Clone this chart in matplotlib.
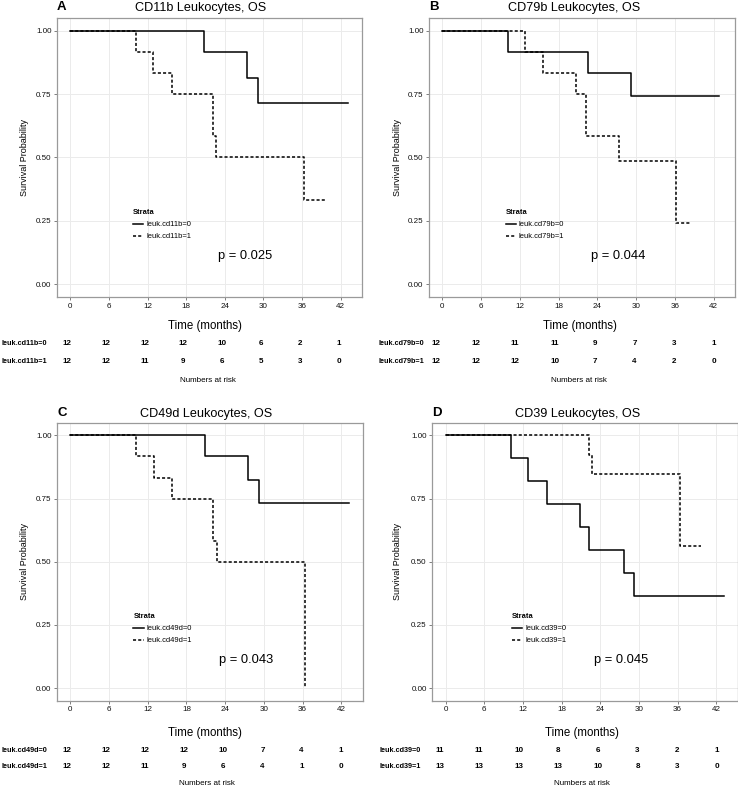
import matplotlib
matplotlib.use('Agg')
import matplotlib.pyplot as plt

plt.rcParams['font.family'] = ['Liberation Sans', 'DejaVu Sans']

W, H = 738, 787

# ---------------- data ----------------
time_ticks = [0, 6, 12, 18, 24, 30, 36, 42]
surv_ticks = [0.0, 0.25, 0.5, 0.75, 1.0]
surv_tick_labels = ['0.00', '0.25', '0.50', '0.75', '1.00']

titles = ['CD11b Leukocytes, OS', 'CD79b Leukocytes, OS',
          'CD49d Leukocytes, OS', 'CD39 Leukocytes, OS']
letters = ['A', 'B', 'C', 'D']
strata0 = ['leuk.cd11b=0', 'leuk.cd79b=0', 'leuk.cd49d=0', 'leuk.cd39=0']
strata1 = ['leuk.cd11b=1', 'leuk.cd79b=1', 'leuk.cd49d=1', 'leuk.cd39=1']
pvals = ['p = 0.025', 'p = 0.044', 'p = 0.043', 'p = 0.045']

A_t0 = [0, 20.8, 27.5, 29.2, 43.2]
A_s0 = [1.0, 0.917, 0.815, 0.713, 0.713]
A_t1 = [0, 10.2, 12.9, 15.8, 22.1, 22.7, 36.3, 39.5]
A_s1 = [1.0, 0.917, 0.833, 0.75, 0.583, 0.5, 0.333, 0.333]
A_risk0 = [12, 12, 12, 12, 10, 6, 2, 1]
A_risk1 = [12, 12, 11, 9, 6, 5, 3, 0]

B_t0 = [0, 10.1, 22.6, 29.2, 42.9]
B_s0 = [1.0, 0.917, 0.833, 0.741, 0.741]
B_t1 = [0, 12.8, 15.6, 20.7, 22.2, 27.4, 36.1, 38.5]
B_s1 = [1.0, 0.917, 0.833, 0.75, 0.583, 0.486, 0.243, 0.243]
B_risk0 = [12, 12, 11, 11, 9, 7, 3, 1]
B_risk1 = [12, 12, 12, 10, 7, 4, 2, 0]

C_t0 = [0, 20.8, 27.6, 29.2, 43.2]
C_s0 = [1.0, 0.917, 0.825, 0.733, 0.733]
C_t1 = [0, 10.2, 12.9, 15.8, 22.1, 22.7, 36.3]
C_s1 = [1.0, 0.917, 0.833, 0.75, 0.583, 0.5, 0.0]
C_risk0 = [12, 12, 12, 12, 10, 7, 4, 1]
C_risk1 = [12, 12, 11, 9, 6, 4, 1, 0]

D_t0 = [0, 10.2, 12.8, 15.7, 20.8, 22.3, 27.7, 29.3, 43.2]
D_s0 = [1.0, 0.909, 0.818, 0.727, 0.636, 0.545, 0.455, 0.364, 0.364]
D_t1 = [0, 22.3, 22.7, 36.4, 39.6]
D_s1 = [1.0, 0.923, 0.846, 0.564, 0.564]
D_risk0 = [11, 11, 10, 8, 6, 3, 2, 1]
D_risk1 = [13, 13, 13, 13, 10, 8, 3, 0]

curves = [(A_t0, A_s0, A_t1, A_s1), (B_t0, B_s0, B_t1, B_s1),
          (C_t0, C_s0, C_t1, C_s1), (D_t0, D_s0, D_t1, D_s1)]
risks = [(A_risk0, A_risk1), (B_risk0, B_risk1),
         (C_risk0, C_risk1), (D_risk0, D_risk1)]

# ---------------- layout (pixels) ----------------
layout = [
    dict(L=57, R=362, T=18, B=297, tcx=201, ty=7.5, ylx=25, tx0=66.7, tx42=339, labr=47,
         r1=343.5, r2=361.5, nar=380, narx=208, tly=326, tlx=205, legx=0.25),
    dict(L=429, R=735, T=18, B=297, tcx=574.5, ty=7.5, ylx=397, tx0=435.7, tx42=714, labr=424,
         r1=343.5, r2=361.5, nar=380, narx=579, tly=326, tlx=579.5, legx=0.25),
    dict(L=57, R=362.7, T=422.7, B=700.7, tcx=206.3, ty=413.5, ylx=25, tx0=66.7, tx42=340.7, labr=47,
         r1=750, r2=767, nar=783.3, narx=206.7, tly=733, tlx=205.3, legx=0.25),
    dict(L=432.3, R=737.5, T=422.7, B=700.7, tcx=577.3, ty=413.5, ylx=397, tx0=439.5, tx42=716.7, labr=421,
         r1=750, r2=767, nar=783.3, narx=582.3, tly=733, tlx=582, legx=0.262),
]

XLIM = (-2.05, 45.3)
YLIM = (-0.05, 1.05)

fig = plt.figure(figsize=(W / 100, H / 100), dpi=100)

for i, lay in enumerate(layout):
    L, R, T, B = lay['L'], lay['R'], lay['T'], lay['B']
    ax = fig.add_axes([L / W, 1 - B / H, (R - L) / W, (B - T) / H])
    ax.set_xlim(*XLIM)
    ax.set_ylim(*YLIM)
    ax.grid(True, color='#ebebeb', lw=0.7)
    ax.set_axisbelow(True)
    for sp in ax.spines.values():
        sp.set_color('#9a9a9a')
        sp.set_linewidth(0.9)
    ax.set_xticks(time_ticks)
    ax.set_xticklabels([str(t) for t in time_ticks])
    ax.set_yticks(surv_ticks)
    ax.set_yticklabels(surv_tick_labels)
    ax.tick_params(length=2.2, width=0.7, color='#7f7f7f', labelsize=5.8, pad=1.8,
                   labelcolor='#111111')

    t0, s0, t1, s1 = curves[i]
    l0, = ax.step(t0, s0, where='post', color='black', lw=1.1, label=strata0[i])
    l1, = ax.step(t1, s1, where='post', color='black', lw=1.1, ls=(0, (2, 1.4)),
                  label=strata1[i])

    leg = ax.legend(handles=[l0, l1], title='Strata', loc='upper left',
                    bbox_to_anchor=(lay['legx'], 0.315), frameon=False, fontsize=5.4,
                    title_fontsize=5.4, handlelength=1.35, handletextpad=0.4,
                    labelspacing=0.65, borderpad=0, borderaxespad=0, alignment='left')
    leg.get_title().set_fontweight('bold')

    ax.text(27.2, 0.11, pvals[i], fontsize=9.3, ha='center', va='center')

    ax.set_ylabel('Survival Probability', fontsize=6.5, va='center', ha='center')
    ax.yaxis.set_label_coords((lay['ylx'] - L) / (R - L), 0.5)
    ax.set_xlabel('Time (months)', fontsize=8.3, va='center', ha='center')
    ax.xaxis.set_label_coords((lay['tlx'] - L) / (R - L), (B - lay['tly']) / (B - T))

    fig.text(lay['tcx'] / W, 1 - lay['ty'] / H, titles[i], fontsize=9.1,
             ha='center', va='center')
    fig.text(L / W, 1 - lay['ty'] / H, letters[i], fontsize=9.5, weight='bold',
             ha='left', va='center')

    # risk table
    x0, x42, r1, r2 = lay['tx0'], lay['tx42'], lay['r1'], lay['r2']
    tax = fig.add_axes([x0 / W, 1 - r2 / H, (x42 - x0) / W, (r2 - r1) / H])
    tax.set_xlim(0, 42)
    tax.set_ylim(0, 1)
    tax.axis('off')
    rk0, rk1 = risks[i]
    for t, n0, n1 in zip(time_ticks, rk0, rk1):
        tax.text(t, 1, str(n0), fontsize=5.8, weight='bold', ha='center', va='center')
        tax.text(t, 0, str(n1), fontsize=5.8, weight='bold', ha='center', va='center')
    labx = (lay['labr'] - x0) / (x42 - x0) * 42
    tax.text(labx, 1, strata0[i], fontsize=5.2, weight='bold', ha='right', va='center')
    tax.text(labx, 0, strata1[i], fontsize=5.2, weight='bold', ha='right', va='center')
    fig.text(lay['narx'] / W, 1 - lay['nar'] / H, 'Numbers at risk', fontsize=5.8,
             ha='center', va='center')

fig.savefig('out.png', dpi=100)
